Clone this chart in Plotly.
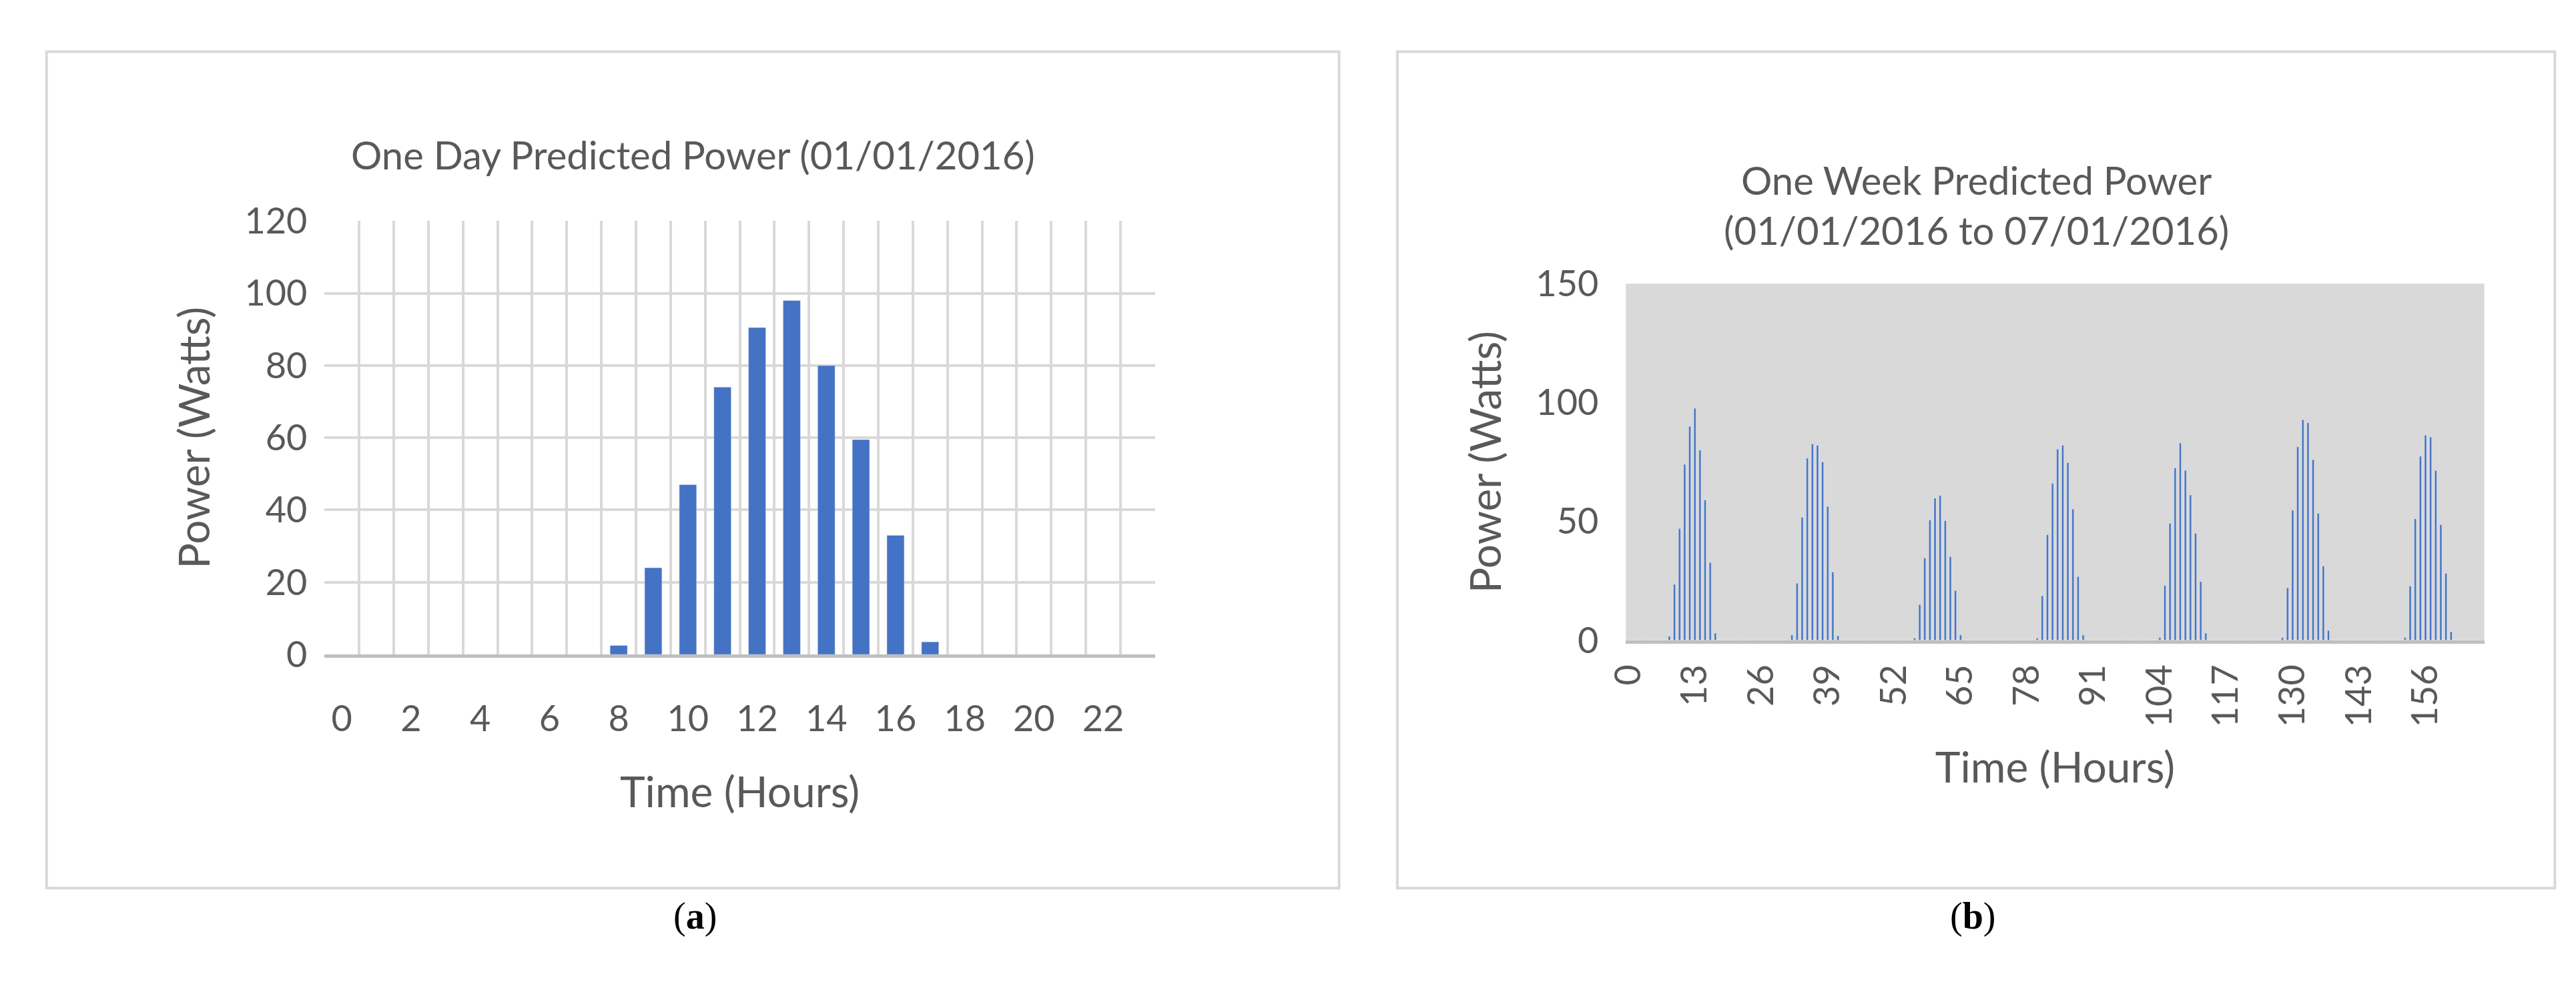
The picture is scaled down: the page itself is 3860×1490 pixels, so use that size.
import plotly.graph_objects as go

day_hours = list(range(24))
day_power = [0,0,0,0,0,0,0,0,2.5,24,47,74,90.5,98,80,59.5,33,3.5,0,0,0,0,0,0]
day_ticks = list(range(0, 24, 2))

week_daily = [
    [1.7,23.5,47,74,90,97.6,80,59,32.7,3],
    [2.2,24,51.7,76.6,82.6,82,75,56.3,28.7,1.9],
    [0.9,15,34.6,50.6,59.8,60.9,50.3,35.2,20.9,2.2],
    [0.9,18.7,44.4,66,80.4,82,74.7,55.2,26.8,2.2],
    [1.1,23,49.2,72.5,83,71.5,61.1,45,24.7,3],
    [1.1,22,54.7,81.4,92.8,91.5,76,53.4,31.2,4.1],
    [1.1,22.8,51.1,77.4,86.3,85.5,71.4,48.6,28.1,3.6],
]
week_hours = list(range(168))
week_power = [0.0]*168
for d, vals in enumerate(week_daily):
    for i, v in enumerate(vals):
        week_power[d*24 + 8 + i] = v
week_ticks = list(range(0, 168, 13))

FONT = "Lato"
GREY = "#595959"
BLUE = "#4472c4"

fig = go.Figure()
fig.add_bar(x=day_hours, y=day_power, marker_color=BLUE, width=0.5, xaxis="x", yaxis="y")
fig.add_bar(x=week_hours, y=week_power, marker_color=BLUE, width=0.4, xaxis="x2", yaxis="y2")

fig.update_layout(
    width=3860, height=1490, margin=dict(l=0, r=0, t=0, b=0),
    paper_bgcolor="white", plot_bgcolor="white", showlegend=False,
    font=dict(family=FONT, color=GREY, size=54),
    xaxis=dict(domain=[0.1166, 0.4417], anchor="y", range=[-0.5, 23.5],
               tickvals=day_ticks, ticktext=[str(t) for t in day_ticks],
               showgrid=False, zeroline=False, ticks="", ticklabelstandoff=45,
               minor=dict(tickvals=[i-0.5 for i in range(25)], showgrid=True,
                          gridcolor="#d9d9d9", gridwidth=4),
               title=dict(text="Time (Hours)", font=dict(size=64), standoff=60),
               showline=True, linecolor="#bfbfbf", linewidth=5, mirror=False),
    yaxis=dict(domain=[0.341, 0.797], anchor="x", range=[0, 120], dtick=20,
               gridcolor="#d9d9d9", gridwidth=4, zeroline=False, ticks="",
               ticklabelstandoff=25,
               title=dict(text="Power (Watts)", font=dict(size=64), standoff=30)),
    xaxis2=dict(domain=[0.626, 0.962], anchor="y2", range=[-0.5, 167.5],
                tickvals=week_ticks, ticktext=[str(t) for t in week_ticks],
                tickangle=-90, showgrid=False, zeroline=False, ticks="",
                ticklabelstandoff=10,
                title=dict(text="Time (Hours)", font=dict(size=64), standoff=40),
                showline=True, linecolor="#bfbfbf", linewidth=5),
    yaxis2=dict(domain=[0.356, 0.731], anchor="x2", range=[0, 150], dtick=50,
                showgrid=False, zeroline=False, ticks="", ticklabelstandoff=40,
                title=dict(text="Power (Watts)", font=dict(size=64), standoff=30)),
)
fig.add_shape(type="rect", xref="x2 domain", yref="y2 domain", x0=0, x1=1, y0=0, y1=1,
              fillcolor="#d9d9d9", line=dict(width=0), layer="below")
for x0, x1 in [(30/3860, 1983/3860), (2071/3860, 3820/3860)]:
    fig.add_shape(type="rect", xref="paper", yref="paper", x0=x0, x1=x1,
                  y0=1-1348/1490, y1=1-37/1490, line=dict(color="#d9d9d9", width=4))
fig.add_annotation(text="One Day Predicted Power (01/01/2016)", xref="paper", yref="paper",
                   x=(30+1983)/2/3860, y=1-160/1490, xanchor="center", showarrow=False,
                   font=dict(size=58))
fig.add_annotation(text="One Week Predicted Power<br>(01/01/2016 to 07/01/2016)", xref="paper", yref="paper",
                   x=(2071+3820)/2/3860, y=1-200/1490, xanchor="center", showarrow=False,
                   font=dict(size=58))
fig.add_annotation(text="(<b>a</b>)", xref="paper", yref="paper", x=1010/3860, y=1-1427/1490,
                   xanchor="center", showarrow=False,
                   font=dict(family="Liberation Serif", size=56, color="black"))
fig.add_annotation(text="(<b>b</b>)", xref="paper", yref="paper", x=2940/3860, y=1-1427/1490,
                   xanchor="center", showarrow=False,
                   font=dict(family="Liberation Serif", size=56, color="black"))

fig.write_html("out.html")
